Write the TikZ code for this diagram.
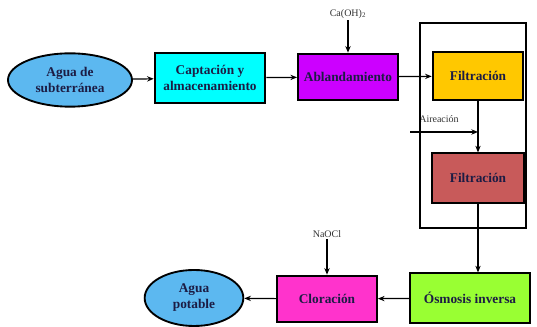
\documentclass[tikz,border=0pt]{standalone}
\usepackage{fontspec}
\setmainfont{Liberation Serif}
\usepackage{tikz}
\usetikzlibrary{shapes.geometric,arrows.meta}
\definecolor{aguablue}{HTML}{5CB8F0}
\definecolor{captcyan}{HTML}{00FFFF}
\definecolor{ablviolet}{HTML}{CC00FF}
\definecolor{filgold}{HTML}{FFC800}
\definecolor{filred}{HTML}{C85A5A}
\definecolor{osmlime}{HTML}{99FF33}
\definecolor{clorpink}{HTML}{FF33CC}
\definecolor{labink}{HTML}{1C1C44}
\tikzstyle{procbox}=[rectangle, draw, line width=1.4pt, text=labink, align=center,
  font=\fontsize{10}{12}\selectfont\bfseries, inner sep=2pt]
\tikzstyle{aguanode}=[ellipse, draw, line width=1.4pt, fill=aguablue, text=labink,
  align=center, font=\fontsize{10}{12}\selectfont\bfseries, inner sep=0pt]
\tikzstyle{addlabel}=[font=\fontsize{7.5}{9}\selectfont, text=black!80, inner sep=1pt]
\tikzset{flow/.style={-{Stealth[length=5pt,width=4pt]}, line width=0.9pt}}

\begin{document}
\begin{tikzpicture}[x=0.75pt, y=-0.75pt]
    \useasboundingbox (0,0) rectangle (537,327);
    \node[aguanode, minimum width=93pt, minimum height=40pt] (sub) at (70,80) {Agua de\\subterránea};
    \node[procbox, fill=captcyan, minimum width=83pt, minimum height=37pt] (capt) at (210,78) {Captación y\\almacenamiento};
    \node[procbox, fill=ablviolet, minimum width=75pt, minimum height=35pt] (abl) at (348,77) {Ablandamiento};
    \node[procbox, fill=filgold, minimum width=68pt, minimum height=36pt] (fila) at (478,76) {Filtración};
    \node[procbox, fill=filred, minimum width=69pt, minimum height=37pt] (filb) at (478,178) {Filtración};
    \node[procbox, fill=osmlime, minimum width=90pt, minimum height=37pt] (osm) at (470,298) {Ósmosis inversa};
    \node[procbox, fill=clorpink, minimum width=75pt, minimum height=35pt] (clor) at (327,299) {Cloración};
    \node[aguanode, minimum width=74pt, minimum height=42pt] (pot) at (194,298) {Agua\\potable};
    \node[addlabel] (caoh) at (348,14) {Ca(OH)\textsubscript{2}};
    \node[addlabel] (naocl) at (327,234) {NaOCl};
    \node[addlabel] (aire) at (439,119) {Aireación};
    \coordinate (airein) at (410,132);
    \draw[line width=1.1pt] (420,23) rectangle (526,228);
    \draw[flow] (sub) -- (capt);
    \draw[flow] (capt) -- (abl);
    \draw[flow] (abl) -- (fila);
    \draw[flow] (caoh.south) -- (abl.north);
    \draw[flow] (fila) -- (filb);
    \draw[flow] (airein) -- (airein -| fila.south);
    \draw[flow] (filb.south) -- (filb.south |- osm.north);
    \draw[flow] (osm) -- (clor);
    \draw[flow] (naocl.south) -- (clor.north);
    \draw[flow] (clor) -- (pot);
  \end{tikzpicture}
\end{document}
